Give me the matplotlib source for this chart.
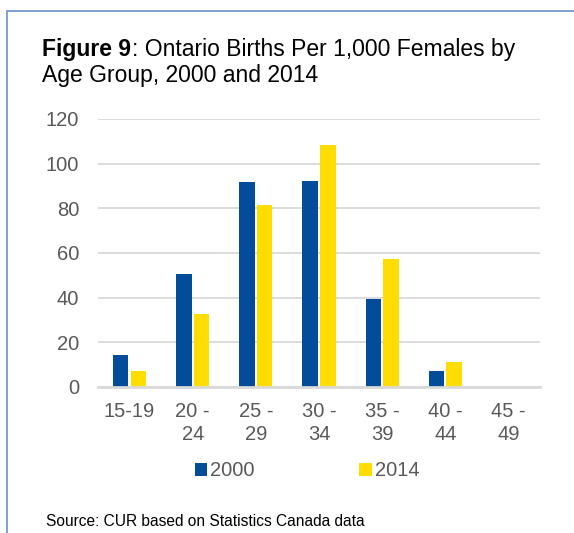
import matplotlib
matplotlib.use("Agg")
import matplotlib.pyplot as plt
from matplotlib.lines import Line2D
from matplotlib.patches import Patch
import numpy as np

plt.rcParams['font.family'] = ['Liberation Sans', 'DejaVu Sans']

categories = ["15-19", "20 -\n24", "25 -\n29", "30 -\n34", "35 -\n39", "40 -\n44", "45 -\n49"]
births_2000 = [14.2, 50.5, 91.9, 92.3, 39.3, 7.2, 0.2]
births_2014 = [7.3, 32.6, 81.3, 108.5, 57.2, 11.2, 0.15]
series_names = ["2000", "2014"]
yticks = [0, 20, 40, 60, 80, 100, 120]

W, H = 574, 533
fig = plt.figure(figsize=(W / 100, H / 100), dpi=100)

def fx(px):
    return px / W

def fy(py):
    return 1 - py / H

ax = fig.add_axes([fx(98), fy(387), fx(540) - fx(98), fy(119) - fy(387)])

x = np.arange(len(categories))
blue = "#024C9A"
yellow = "#FFDD00"
width = 0.245
ax.bar(x - 0.14, births_2000, width, color=blue, label=series_names[0], zorder=3)
ax.bar(x + 0.14, births_2014, width, color=yellow, label=series_names[1], zorder=3)

ax.set_xlim(-0.5, len(categories) - 0.5)
ax.set_ylim(0, 120)
ax.set_yticks(yticks)
ax.set_xticks(x)
ax.set_xticklabels(categories, linespacing=1.25)
ax.grid(axis="y", color="#D9D9D9", linewidth=1.3, zorder=0)
ax.set_axisbelow(True)
for s in ["top", "right", "left"]:
    ax.spines[s].set_visible(False)
ax.spines["bottom"].set_color("#D9D9D9")
ax.spines["bottom"].set_linewidth(2.0)
ax.spines["bottom"].set_zorder(4)
ax.tick_params(axis="both", length=0, labelsize=14.5, colors="#595959")
ax.tick_params(axis="y", pad=13.5)
ax.tick_params(axis="x", pad=11)
for lbl in ax.get_xticklabels():
    lbl.set_verticalalignment("top")

# legend
handles = [Patch(facecolor=blue), Patch(facecolor=yellow)]
leg = fig.legend(handles, series_names, loc="center", bbox_to_anchor=(fx(307), fy(471)),
                 ncol=2, frameon=False, fontsize=14.5, handlelength=0.62, handleheight=0.62,
                 handletextpad=0.15, columnspacing=5.2, borderaxespad=0)
for t in leg.get_texts():
    t.set_color("#595959")

# title
fs_title = 16.5
t1 = fig.text(fx(42.5), fy(55.7), "Figure 9", fontsize=fs_title, fontweight="bold",
              ha="left", va="baseline", color="black")
fig.canvas.draw()
bb = t1.get_window_extent()
fig.text(bb.x1 / (W) , fy(55.7), ": Ontario Births Per 1,000 Females by", fontsize=fs_title,
         ha="left", va="baseline", color="black")
fig.text(fx(42.5), fy(82.3), "Age Group, 2000 and 2014", fontsize=fs_title,
         ha="left", va="baseline", color="black")

# source
fig.text(fx(46.5), fy(526.5), "Source: CUR based on Statistics Canada data", fontsize=11.2,
         ha="left", va="baseline", color="black")

# border
border_color = "#7F9FD6"
fig.add_artist(Line2D([fx(7), 1.0], [fy(11), fy(11)], color=border_color, linewidth=1.4,
                      transform=fig.transFigure))
fig.add_artist(Line2D([fx(7), fx(7)], [fy(11), 0.0], color=border_color, linewidth=1.4,
                      transform=fig.transFigure))

fig.savefig("out.png", dpi=100)
